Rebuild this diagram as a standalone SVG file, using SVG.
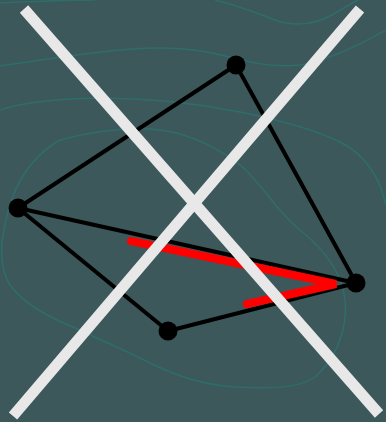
<svg xmlns="http://www.w3.org/2000/svg" width="386" height="422" viewBox="0 0 386 422">
<style>
.contour{fill:none;stroke:#2f6d6c;stroke-width:1.5}
.edge{fill:none;stroke:#000;stroke-width:4;stroke-linecap:round}
.node{fill:#000}
.cross{stroke:#e8e8e8;stroke-width:11;stroke-linecap:butt}
</style>
<rect width="386" height="422" fill="#3c585a"/>
<g id="contours">
<path class="contour" d="M0,3 C40,1 70,0 95,0"/>
<path class="contour" d="M215,0 C240,6 260,14 275,20 C295,27 315,24 330,16 C342,9 352,3 358,0"/>
<path class="contour" d="M0,66 C40,60 80,54 120,50 C160,46 195,48 225,56 C250,63 275,68 300,65 C330,60 360,45 386,30"/>
<path class="contour" d="M0,110 C20,103 50,99 100,98 C150,98 200,104 240,112 C280,120 315,130 340,142 C360,152 378,170 386,205"/>
<path class="contour" d="M60,140 C90,132 120,128 150,129 C185,131 215,146 240,165 C262,183 275,210 300,230 C325,250 342,272 345,300 C348,330 335,360 315,377 C300,388 270,389 235,387 C200,385 170,374 140,358 C120,348 100,340 80,330 C50,318 25,305 10,285 C0,270 0,245 5,225 C10,195 25,160 60,140 Z"/>
</g>
<g id="connectors">
<line class="edge" x1="236" y1="65" x2="18" y2="208"/>
<line class="edge" x1="236" y1="65" x2="356" y2="283"/>
<line class="edge" x1="18" y1="208" x2="356" y2="283" stroke-width="4.5"/>
<line class="edge" x1="18" y1="208" x2="168" y2="331"/>
<line class="edge" x1="168" y1="331" x2="356" y2="283"/>
</g>
<g id="node-a"><circle class="node" cx="236" cy="65" r="9.5"/></g>
<g id="node-b"><circle class="node" cx="18" cy="208" r="9.5"/></g>
<g id="node-c"><circle class="node" cx="168" cy="331" r="9.5"/></g>
<g id="node-d"><circle class="node" cx="356" cy="283" r="9.5"/></g>
<g id="arrow">
<polyline points="131,241 336,284 247,304" fill="none" stroke="#ff0000" stroke-width="8" stroke-linecap="round" stroke-linejoin="miter"/>
</g>
<g id="cross">
<line class="cross" x1="24" y1="9" x2="379" y2="414"/>
<line class="cross" x1="360" y1="9" x2="13" y2="416"/>
</g>
</svg>
